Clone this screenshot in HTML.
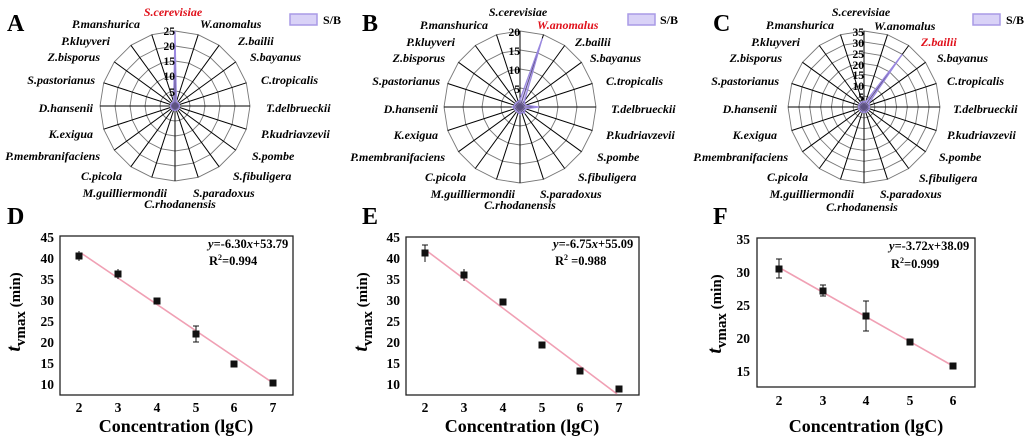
<!DOCTYPE html>
<html><head><meta charset="utf-8">
<style>
html,body{margin:0;padding:0;background:#fff;}
svg{display:block;}
svg text{font-family:"Liberation Serif","DejaVu Serif","Times New Roman",serif;}
.lb{font-weight:bold;font-style:italic;font-size:12px;fill:#000;}
.rd{fill:#e0101a;}
.rt{font-size:11.5px;fill:#000;font-weight:bold;}
.pl{font-weight:bold;font-size:24px;fill:#000;}
.tk{font-weight:bold;font-size:13.5px;fill:#000;}
.xl{font-weight:bold;font-size:18px;fill:#000;}
.eq{font-weight:bold;font-size:12.5px;fill:#000;}
.lg{font-weight:bold;font-size:12px;fill:#000;}
</style></head><body>
<svg id="s" width="1024" height="439" viewBox="0 0 1024 439" xmlns="http://www.w3.org/2000/svg" font-family="Liberation Serif, DejaVu Serif, serif">
<g id="grids"></g>

<text class="pl" x="7" y="31">A</text>
<text class="pl" x="362" y="31">B</text>
<text class="pl" x="713" y="31">C</text>
<text class="pl" x="7" y="224">D</text>
<text class="pl" x="362" y="224">E</text>
<text class="pl" x="713" y="224">F</text>

<rect x="290" y="14" width="27" height="11" fill="#d9d2f7" stroke="#a99ae6" stroke-width="1.5"/><text class="lg" x="323" y="24">S/B</text>
<rect x="628" y="14" width="27" height="11" fill="#d9d2f7" stroke="#a99ae6" stroke-width="1.5"/><text class="lg" x="660" y="24">S/B</text>
<rect x="973" y="14" width="27" height="11" fill="#d9d2f7" stroke="#a99ae6" stroke-width="1.5"/><text class="lg" x="1006" y="24">S/B</text>

<g transform="translate(175,0)">
<text class="lb rd" x="-2" y="16" text-anchor="middle">S.cerevisiae</text>
<text class="lb" x="25" y="28">W.anomalus</text>
<text class="lb" x="63" y="45">Z.bailii</text>
<text class="lb" x="75" y="61">S.bayanus</text>
<text class="lb" x="86" y="84">C.tropicalis</text>
<text class="lb" x="91" y="112">T.delbrueckii</text>
<text class="lb" x="86" y="138">P.kudriavzevii</text>
<text class="lb" x="77" y="160">S.pombe</text>
<text class="lb" x="58" y="180">S.fibuligera</text>
<text class="lb" x="18" y="197">S.paradoxus</text>
<text class="lb" x="5" y="208" text-anchor="middle">C.rhodanensis</text>
<text class="lb" x="-8" y="197" text-anchor="end">M.guilliermondii</text>
<text class="lb" x="-53" y="180" text-anchor="end">C.picola</text>
<text class="lb" x="-75" y="160" text-anchor="end">P.membranifaciens</text>
<text class="lb" x="-82" y="138" text-anchor="end">K.exigua</text>
<text class="lb" x="-82" y="112" text-anchor="end">D.hansenii</text>
<text class="lb" x="-80" y="84" text-anchor="end">S.pastorianus</text>
<text class="lb" x="-75" y="61" text-anchor="end">Z.bisporus</text>
<text class="lb" x="-65" y="45" text-anchor="end">P.kluyveri</text>
<text class="lb" x="-35" y="28" text-anchor="end">P.manshurica</text>
<text class="rt" x="0" y="35" text-anchor="end">25</text>
<text class="rt" x="0" y="50" text-anchor="end">20</text>
<text class="rt" x="0" y="65" text-anchor="end">15</text>
<text class="rt" x="0" y="80" text-anchor="end">10</text>
<text class="rt" x="0" y="96" text-anchor="end">5</text>
</g>

<g transform="translate(520,1)">
<text class="lb" x="-2" y="15" text-anchor="middle">S.cerevisiae</text>
<text class="lb rd" x="17" y="28">W.anomalus</text>
<text class="lb" x="55" y="45">Z.bailii</text>
<text class="lb" x="70" y="61">S.bayanus</text>
<text class="lb" x="86" y="84">C.tropicalis</text>
<text class="lb" x="91" y="112">T.delbrueckii</text>
<text class="lb" x="86" y="138">P.kudriavzevii</text>
<text class="lb" x="77" y="160">S.pombe</text>
<text class="lb" x="58" y="180">S.fibuligera</text>
<text class="lb" x="20" y="197">S.paradoxus</text>
<text class="lb" x="0" y="208" text-anchor="middle">C.rhodanensis</text>
<text class="lb" x="-5" y="197" text-anchor="end">M.guilliermondii</text>
<text class="lb" x="-54" y="180" text-anchor="end">C.picola</text>
<text class="lb" x="-75" y="160" text-anchor="end">P.membranifaciens</text>
<text class="lb" x="-82" y="138" text-anchor="end">K.exigua</text>
<text class="lb" x="-82" y="112" text-anchor="end">D.hansenii</text>
<text class="lb" x="-80" y="84" text-anchor="end">S.pastorianus</text>
<text class="lb" x="-75" y="61" text-anchor="end">Z.bisporus</text>
<text class="lb" x="-65" y="45" text-anchor="end">P.kluyveri</text>
<text class="lb" x="-32" y="28" text-anchor="end">P.manshurica</text>
<text class="rt" x="0" y="35" text-anchor="end">20</text>
<text class="rt" x="0" y="54" text-anchor="end">15</text>
<text class="rt" x="0" y="73" text-anchor="end">10</text>
<text class="rt" x="0" y="92" text-anchor="end">5</text>
</g>

<g transform="translate(864,1)">
<text class="lb" x="-3" y="15" text-anchor="middle">S.cerevisiae</text>
<text class="lb" x="10" y="29">W.anomalus</text>
<text class="lb rd" x="57" y="45">Z.bailii</text>
<text class="lb" x="73" y="61">S.bayanus</text>
<text class="lb" x="83" y="84">C.tropicalis</text>
<text class="lb" x="89" y="112">T.delbrueckii</text>
<text class="lb" x="83" y="138">P.kudriavzevii</text>
<text class="lb" x="75" y="160">S.pombe</text>
<text class="lb" x="55" y="181">S.fibuligera</text>
<text class="lb" x="16" y="197">S.paradoxus</text>
<text class="lb" x="-2" y="210" text-anchor="middle">C.rhodanensis</text>
<text class="lb" x="-10" y="197" text-anchor="end">M.guilliermondii</text>
<text class="lb" x="-56" y="180" text-anchor="end">C.picola</text>
<text class="lb" x="-76" y="160" text-anchor="end">P.membranifaciens</text>
<text class="lb" x="-87" y="138" text-anchor="end">K.exigua</text>
<text class="lb" x="-87" y="112" text-anchor="end">D.hansenii</text>
<text class="lb" x="-85" y="84" text-anchor="end">S.pastorianus</text>
<text class="lb" x="-82" y="61" text-anchor="end">Z.bisporus</text>
<text class="lb" x="-64" y="45" text-anchor="end">P.kluyveri</text>
<text class="lb" x="-30" y="28" text-anchor="end">P.manshurica</text>
<text class="rt" x="0" y="35" text-anchor="end">35</text>
<text class="rt" x="0" y="46" text-anchor="end">30</text>
<text class="rt" x="0" y="57" text-anchor="end">25</text>
<text class="rt" x="0" y="68" text-anchor="end">20</text>
<text class="rt" x="0" y="78" text-anchor="end">15</text>
<text class="rt" x="0" y="89" text-anchor="end">10</text>
<text class="rt" x="0" y="100" text-anchor="end">5</text>
</g>

<!-- Panel D -->
<rect x="60" y="236" width="233" height="159" fill="none" stroke="#222" stroke-width="1.3"/>
<g class="tk" text-anchor="end">
<text class="tk" x="54" y="242">45</text><text class="tk" x="54" y="263">40</text><text class="tk" x="54" y="284">35</text><text class="tk" x="54" y="305">30</text><text class="tk" x="54" y="326">25</text><text class="tk" x="54" y="347">20</text><text class="tk" x="54" y="368">15</text><text class="tk" x="54" y="389">10</text>
</g>
<g text-anchor="middle">
<text class="tk" x="79" y="412">2</text><text class="tk" x="118" y="412">3</text><text class="tk" x="157" y="412">4</text><text class="tk" x="196" y="412">5</text><text class="tk" x="234" y="412">6</text><text class="tk" x="273" y="412">7</text>
</g>
<text class="xl" x="176" y="432" text-anchor="middle">Concentration (lgC)</text>
<text transform="translate(20,312) rotate(-90)" text-anchor="middle"><tspan class="xl" style="font-style:italic;font-size:20px">t</tspan><tspan class="xl" style="font-size:15px" dy="5">vmax</tspan><tspan class="xl" style="font-size:15px" dy="-5"> (min)</tspan></text>
<line x1="81" y1="253" x2="273" y2="383" stroke="#f0a0b4" stroke-width="1.6"/>
<text class="eq" x="208" y="248"><tspan font-style="italic">y</tspan>=-6.30<tspan font-style="italic">x</tspan>+53.79</text>
<text class="eq" x="209" y="265">R<tspan font-size="8" dy="-5">2</tspan><tspan dy="5">=0.994</tspan></text>
<g fill="#111" stroke="#111">
<rect x="76" y="253" width="6" height="6"/><line x1="79" y1="251" x2="79" y2="261"/>
<rect x="115" y="271" width="6" height="6"/><line x1="118" y1="269" x2="118" y2="279"/>
<rect x="154" y="298" width="6" height="6"/>
<rect x="193" y="331" width="6" height="6"/><line x1="196" y1="326" x2="196" y2="342"/><line x1="193" y1="326" x2="199" y2="326"/><line x1="193" y1="342" x2="199" y2="342"/>
<rect x="231" y="361" width="6" height="6"/>
<rect x="270" y="380" width="6" height="6"/>
</g>

<!-- Panel E -->
<rect x="406" y="237" width="233" height="158" fill="none" stroke="#222" stroke-width="1.3"/>
<g text-anchor="end">
<text class="tk" x="400" y="242">45</text><text class="tk" x="400" y="263">40</text><text class="tk" x="400" y="284">35</text><text class="tk" x="400" y="305">30</text><text class="tk" x="400" y="326">25</text><text class="tk" x="400" y="347">20</text><text class="tk" x="400" y="368">15</text><text class="tk" x="400" y="389">10</text>
</g>
<g text-anchor="middle">
<text class="tk" x="425" y="412">2</text><text class="tk" x="464" y="412">3</text><text class="tk" x="503" y="412">4</text><text class="tk" x="542" y="412">5</text><text class="tk" x="580" y="412">6</text><text class="tk" x="619" y="412">7</text>
</g>
<text class="xl" x="522" y="432" text-anchor="middle">Concentration (lgC)</text>
<text transform="translate(367,312) rotate(-90)" text-anchor="middle"><tspan class="xl" style="font-style:italic;font-size:20px">t</tspan><tspan class="xl" style="font-size:15px" dy="5">vmax</tspan><tspan class="xl" style="font-size:15px" dy="-5"> (min)</tspan></text>
<line x1="427" y1="251" x2="617" y2="394" stroke="#f0a0b4" stroke-width="1.6"/>
<text class="eq" x="553" y="248"><tspan font-style="italic">y</tspan>=-6.75<tspan font-style="italic">x</tspan>+55.09</text>
<text class="eq" x="555" y="265">R<tspan font-size="8" dy="-5">2</tspan><tspan dy="5">  =0.988</tspan></text>
<g fill="#111" stroke="#111">
<rect x="422" y="250" width="6" height="6"/><line x1="425" y1="245" x2="425" y2="262"/><line x1="422" y1="245" x2="428" y2="245"/>
<rect x="461" y="272" width="6" height="6"/><line x1="464" y1="269" x2="464" y2="281"/>
<rect x="500" y="299" width="6" height="6"/>
<rect x="539" y="342" width="6" height="6"/>
<rect x="577" y="368" width="6" height="6"/>
<rect x="616" y="386" width="6" height="6"/>
</g>

<!-- Panel F -->
<rect x="757" y="238" width="218" height="149" fill="none" stroke="#222" stroke-width="1.3"/>
<g text-anchor="end">
<text class="tk" x="750" y="244">35</text><text class="tk" x="750" y="277">30</text><text class="tk" x="750" y="310">25</text><text class="tk" x="750" y="343">20</text><text class="tk" x="750" y="376">15</text>
</g>
<g text-anchor="middle">
<text class="tk" x="779" y="405">2</text><text class="tk" x="823" y="405">3</text><text class="tk" x="866" y="405">4</text><text class="tk" x="910" y="405">5</text><text class="tk" x="953" y="405">6</text>
</g>
<text class="xl" x="866" y="432" text-anchor="middle">Concentration (lgC)</text>
<text transform="translate(721,314) rotate(-90)" text-anchor="middle"><tspan class="xl" style="font-style:italic;font-size:20px">t</tspan><tspan class="xl" style="font-size:15px" dy="5">vmax</tspan><tspan class="xl" style="font-size:15px" dy="-5"> (min)</tspan></text>
<line x1="780" y1="268" x2="953" y2="366" stroke="#f0a0b4" stroke-width="1.6"/>
<text class="eq" x="889" y="250"><tspan font-style="italic">y</tspan>=-3.72<tspan font-style="italic">x</tspan>+38.09</text>
<text class="eq" x="891" y="268">R<tspan font-size="8" dy="-5">2</tspan><tspan dy="5">=0.999</tspan></text>
<g fill="#111" stroke="#111">
<rect x="776" y="266" width="6" height="6"/><line x1="779" y1="259" x2="779" y2="278"/><line x1="776" y1="259" x2="782" y2="259"/><line x1="776" y1="278" x2="782" y2="278"/>
<rect x="820" y="288" width="6" height="6"/><line x1="823" y1="285" x2="823" y2="296"/><line x1="820" y1="285" x2="826" y2="285"/><line x1="820" y1="296" x2="826" y2="296"/>
<rect x="863" y="313" width="6" height="6"/><line x1="866" y1="301" x2="866" y2="331"/><line x1="863" y1="301" x2="869" y2="301"/><line x1="863" y1="331" x2="869" y2="331"/>
<rect x="907" y="339" width="6" height="6"/>
<rect x="950" y="363" width="6" height="6"/>
</g>
</svg>
<script>
(function(){
var g=document.getElementById('grids');var ns='http://www.w3.org/2000/svg';
function el(n,a){var e=document.createElementNS(ns,n);for(var k in a)e.setAttribute(k,a[k]);g.appendChild(e);return e;}
function radar(cx,cy,R,rings,max,data){
 var N=20,i,k,p;
 for(k=1;k<=rings;k++){var r=R*k/rings;p=[];for(i=0;i<N;i++){var a=i*Math.PI*2/N;p.push((cx+r*Math.sin(a)).toFixed(1)+','+(cy-r*Math.cos(a)).toFixed(1));}
  el('polygon',{points:p.join(' '),fill:'none',stroke:'#777','stroke-width':0.9});}
 for(i=0;i<N;i++){var a=i*Math.PI*2/N;el('line',{x1:cx,y1:cy,x2:(cx+R*Math.sin(a)).toFixed(1),y2:(cy-R*Math.cos(a)).toFixed(1),stroke:'#000','stroke-width':1});}
 p=[];for(i=0;i<N;i++){var a=i*Math.PI*2/N,r=R*data[i]/max;p.push((cx+r*Math.sin(a)).toFixed(1)+','+(cy-r*Math.cos(a)).toFixed(1));}
 el('polygon',{points:p.join(' '),fill:'rgba(170,150,235,0.55)',stroke:'#9a88e0','stroke-width':1.2});
}
var a=[];for(var i=0;i<20;i++)a.push(1.5);a[0]=25;
radar(175,106,75,5,25,a);
var b=[2,19,2,1.5,1.5,5,1.5,1.5,2,1.5,2,1.5,1.5,1.5,1.5,2,1.5,1.5,1.5,1.5];
radar(520,107,76,4,20,b);
var c=[];for(i=0;i<20;i++)c.push(2.5);c[2]=30;
radar(864,107,76,7,35,c);
})();
</script>
</body></html>
